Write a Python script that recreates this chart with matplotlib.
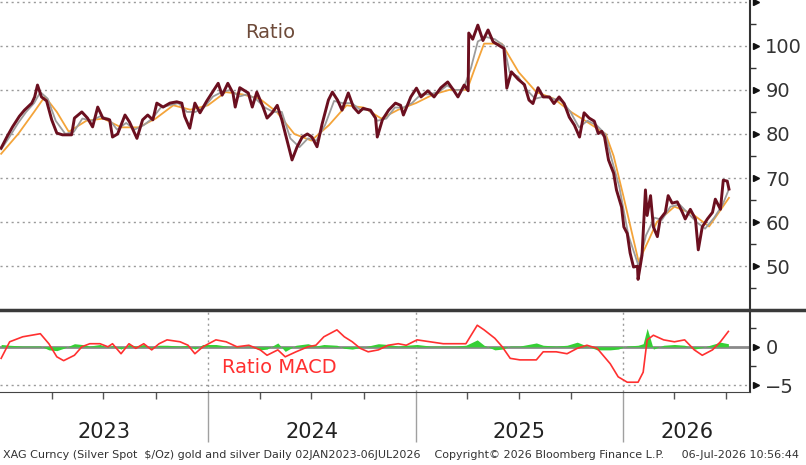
import numpy as np
import pandas as pd
import matplotlib
matplotlib.use("Agg")
import matplotlib.pyplot as plt
from matplotlib.lines import Line2D

# gold / silver ratio
ratio_dates = [
    "2023-01-02", "2023-01-12", "2023-01-22", "2023-02-03", "2023-02-12", "2023-02-25", "2023-03-02",
    "2023-03-07", "2023-03-14", "2023-03-23", "2023-04-01", "2023-04-10", "2023-04-20", "2023-05-06",
    "2023-05-11", "2023-05-24", "2023-06-03", "2023-06-12", "2023-06-21", "2023-06-30", "2023-07-12",
    "2023-07-17", "2023-07-26", "2023-08-08", "2023-08-16", "2023-08-29", "2023-09-08", "2023-09-17",
    "2023-09-26", "2023-10-03", "2023-10-14", "2023-10-26", "2023-11-07", "2023-11-16", "2023-11-21",
    "2023-11-30", "2023-12-09", "2023-12-18", "2023-12-30",
    "2024-01-08", "2024-01-19", "2024-01-26", "2024-02-05", "2024-02-14", "2024-02-18", "2024-02-26",
    "2024-03-12", "2024-03-19", "2024-03-27", "2024-04-07", "2024-04-14", "2024-04-23", "2024-05-02",
    "2024-05-10", "2024-05-19", "2024-05-28", "2024-06-06", "2024-06-15", "2024-06-24", "2024-07-02",
    "2024-07-11", "2024-07-20", "2024-07-31", "2024-08-07", "2024-08-16", "2024-08-24", "2024-09-04",
    "2024-09-13", "2024-09-22", "2024-09-30", "2024-10-13", "2024-10-22", "2024-10-25", "2024-11-03",
    "2024-11-14", "2024-11-26", "2024-12-05", "2024-12-10", "2024-12-23",
    "2025-01-02", "2025-01-10", "2025-01-22", "2025-02-02", "2025-02-14", "2025-02-26", "2025-03-09",
    "2025-03-16", "2025-03-27", "2025-04-03", "2025-04-04", "2025-04-11", "2025-04-20", "2025-04-29",
    "2025-05-08", "2025-05-17", "2025-05-27", "2025-06-05", "2025-06-10", "2025-06-18", "2025-06-30",
    "2025-07-11", "2025-07-19", "2025-07-26", "2025-08-04", "2025-08-13", "2025-08-24", "2025-09-01",
    "2025-09-10", "2025-09-19", "2025-09-28", "2025-10-07", "2025-10-16", "2025-10-24", "2025-11-02",
    "2025-11-11", "2025-11-18", "2025-11-24", "2025-11-29", "2025-12-06", "2025-12-15", "2025-12-20",
    "2025-12-29",
    "2026-01-02", "2026-01-08", "2026-01-13", "2026-01-19", "2026-01-26", "2026-01-27", "2026-02-03",
    "2026-02-09", "2026-02-12", "2026-02-18", "2026-02-23", "2026-03-02", "2026-03-07", "2026-03-16",
    "2026-03-21", "2026-03-28", "2026-04-06", "2026-04-15", "2026-04-20", "2026-04-29", "2026-05-08",
    "2026-05-13", "2026-05-20", "2026-05-29", "2026-06-07", "2026-06-12", "2026-06-21", "2026-06-26",
    "2026-07-03", "2026-07-06",
]
ratio_vals = [
    76.8, 79.3, 81.6, 84.0, 85.4, 87.0, 88.4,
    91.1, 88.4, 87.5, 83.2, 80.2, 79.8, 79.8,
    83.6, 85.0, 83.6, 81.6, 86.1, 83.6, 83.2,
    79.3, 80.0, 84.3, 82.7, 79.0, 83.2, 84.3,
    83.2, 87.0, 86.1, 87.0, 87.3, 87.0, 84.0,
    81.3, 87.0, 84.8, 87.5,
    89.3, 91.5, 88.8, 91.5, 89.3, 86.1, 90.5,
    89.3, 86.1, 89.5, 86.1, 83.6, 84.8, 86.5,
    83.2, 78.6, 74.1, 77.1, 79.3, 80.0, 79.3,
    77.1, 82.3, 87.7, 89.5, 87.7, 85.4, 89.3,
    86.1, 84.8, 85.8, 85.4, 83.6, 79.3, 83.2,
    85.4, 87.0, 86.5, 84.3, 88.4,
    90.4, 88.4, 89.8, 88.4, 90.5, 91.8, 89.8,
    88.4, 91.1, 89.8, 102.9, 101.5, 104.7, 101.2,
    103.6, 100.9, 100.1, 99.4, 90.4, 94.1, 92.4,
    91.2, 87.7, 86.9, 90.5, 88.4, 88.4, 86.9,
    88.4, 86.9, 83.8, 82.0, 79.3, 84.8, 83.6,
    82.9, 80.1, 80.6, 79.3, 74.1, 71.1, 67.3,
    63.4,
    58.9, 57.4, 53.0, 49.8, 50.0, 47.0, 52.5,
    67.3, 61.5, 66.0, 58.9, 56.7, 60.7, 62.2,
    66.0, 64.3, 64.6, 62.2, 60.7, 62.9, 60.7,
    53.7, 58.9, 60.7, 62.2, 65.2, 62.9, 69.5,
    69.3, 67.5,
]

# short moving average (grey)
short_ma_dates = [
    "2023-01-02", "2023-01-15", "2023-02-01", "2023-02-15", "2023-03-01", "2023-03-12", "2023-03-25",
    "2023-04-08", "2023-04-25", "2023-05-10", "2023-05-25", "2023-06-10", "2023-06-25", "2023-07-10",
    "2023-07-25", "2023-08-10", "2023-08-25", "2023-09-10", "2023-09-25", "2023-10-10", "2023-10-25",
    "2023-11-10", "2023-11-25", "2023-12-10", "2023-12-25",
    "2024-01-10", "2024-01-25", "2024-02-10", "2024-02-25", "2024-03-10", "2024-03-25", "2024-04-10",
    "2024-04-25", "2024-05-10", "2024-05-25", "2024-06-10", "2024-06-25", "2024-07-10", "2024-07-25",
    "2024-08-10", "2024-08-25", "2024-09-10", "2024-09-25", "2024-10-10", "2024-10-25", "2024-11-10",
    "2024-11-25", "2024-12-10", "2024-12-25",
    "2025-01-10", "2025-01-25", "2025-02-10", "2025-02-25", "2025-03-10", "2025-03-25", "2025-04-08",
    "2025-04-20", "2025-05-05", "2025-05-20", "2025-06-05", "2025-06-15", "2025-06-30", "2025-07-15",
    "2025-07-30", "2025-08-15", "2025-08-30", "2025-09-15", "2025-09-30", "2025-10-15", "2025-10-30",
    "2025-11-15", "2025-11-30", "2025-12-10", "2025-12-25",
    "2026-01-10", "2026-01-28", "2026-02-10", "2026-02-25", "2026-03-10", "2026-03-25", "2026-04-10",
    "2026-04-25", "2026-05-10", "2026-05-25", "2026-06-10", "2026-06-25", "2026-07-06",
]
short_ma_vals = [
    76.5, 79.0, 82.5, 85.0, 87.0, 89.5, 88.0,
    83.0, 80.0, 80.5, 83.5, 83.0, 84.0, 83.5,
    81.0, 82.5, 81.0, 82.0, 83.5, 86.0, 86.5,
    87.0, 85.0, 85.0, 86.0,
    88.5, 89.5, 90.0, 88.5, 89.0, 88.0, 86.0,
    85.0, 85.0, 79.0, 77.0, 79.0, 78.5, 82.0,
    87.5, 87.0, 87.0, 85.5, 85.5, 83.0, 83.5,
    86.0, 86.0, 87.0,
    89.0, 89.0, 89.5, 91.0, 90.0, 90.0, 95.0,
    101.0, 102.0, 101.5, 100.0, 94.0, 93.0, 90.0,
    88.0, 88.5, 88.0, 87.5, 85.0, 81.5, 83.0,
    82.0, 80.0, 75.0, 68.0,
    57.0, 50.0, 57.0, 61.0, 60.5, 63.5, 64.0,
    62.0, 60.0, 58.5, 61.0, 64.0, 67.5,
]

# long moving average (orange)
long_ma_dates = [
    "2023-01-02", "2023-02-01", "2023-03-01", "2023-03-20", "2023-04-10", "2023-05-01", "2023-06-01",
    "2023-07-01", "2023-08-01", "2023-09-01", "2023-10-01", "2023-11-01", "2023-12-01",
    "2024-01-01", "2024-02-01", "2024-03-01", "2024-04-01", "2024-05-01", "2024-06-01", "2024-07-01",
    "2024-08-01", "2024-09-01", "2024-10-01", "2024-11-01", "2024-12-01",
    "2025-01-01", "2025-02-01", "2025-03-01", "2025-04-01", "2025-04-15", "2025-05-01", "2025-06-01",
    "2025-07-01", "2025-08-01", "2025-09-01", "2025-10-01", "2025-11-01", "2025-12-01", "2025-12-15",
    "2026-01-01", "2026-01-28", "2026-02-15", "2026-03-01", "2026-04-01", "2026-05-01", "2026-06-01",
    "2026-07-06",
]
long_ma_vals = [
    75.5, 80.0, 85.0, 88.5, 85.0, 80.5, 83.0,
    83.5, 81.5, 81.5, 83.5, 86.5, 85.5,
    86.5, 89.5, 89.0, 88.0, 85.0, 80.0, 78.5,
    82.0, 86.5, 86.0, 83.5, 85.5,
    87.0, 89.0, 90.0, 90.0, 95.0, 100.5, 100.5,
    94.0, 89.5, 88.0, 85.0, 82.5, 80.0, 75.0,
    66.0, 51.0, 56.0, 60.0, 63.5, 62.0, 59.0,
    65.5,
]

# MACD line (red) and histogram (green)
macd_dates = [
    "2023-01-02", "2023-01-17", "2023-02-09", "2023-03-12", "2023-03-27", "2023-04-10", "2023-04-22",
    "2023-05-11", "2023-05-24", "2023-06-07", "2023-06-25", "2023-07-09", "2023-07-17", "2023-08-01",
    "2023-08-15", "2023-08-27", "2023-09-10", "2023-09-24", "2023-10-07", "2023-10-21", "2023-11-13",
    "2023-11-27", "2023-12-09", "2023-12-23",
    "2024-01-15", "2024-02-02", "2024-02-21", "2024-03-13", "2024-04-02", "2024-04-14", "2024-05-03",
    "2024-05-16", "2024-06-04", "2024-06-25", "2024-07-09", "2024-07-23", "2024-08-15", "2024-08-28",
    "2024-09-11", "2024-09-25", "2024-10-09", "2024-10-27", "2024-11-13", "2024-12-01", "2024-12-15",
    "2025-01-03", "2025-01-26", "2025-02-18", "2025-03-12", "2025-03-30", "2025-04-19", "2025-05-01",
    "2025-05-20", "2025-06-02", "2025-06-16", "2025-07-03", "2025-08-01", "2025-08-13", "2025-09-05",
    "2025-09-24", "2025-10-12", "2025-10-29", "2025-11-16", "2025-12-09", "2025-12-23",
    "2026-01-08", "2026-01-27", "2026-02-05", "2026-02-12", "2026-02-23", "2026-03-13", "2026-04-01",
    "2026-04-19", "2026-05-06", "2026-05-20", "2026-06-07", "2026-06-21", "2026-07-05",
]
macd_line = [
    -1.5, 0.65, 1.3, 1.7, 0.4, -1.3, -1.8,
    -1.1, 0.0, 0.4, 0.4, 0.0, 0.4, -0.9,
    0.4, -0.2, 0.4, -0.4, 0.4, 0.9, 0.65,
    0.2, -0.9, 0.0,
    0.9, 0.65, 0.0, 0.2, -0.4, -1.1, -0.4,
    -1.3, -0.65, 0.0, 0.2, 1.3, 2.2, 1.3,
    0.65, -0.2, -0.65, -0.4, 0.2, 0.4, 0.2,
    0.9, 0.65, 0.4, 0.4, 0.4, 2.8, 2.2,
    1.1, 0.0, -1.5, -1.7, -1.7, -0.65, -0.65,
    -0.9, -0.2, 0.2, -0.2, -2.2, -3.9,
    -4.6, -4.6, -3.3, 0.9, 1.5, 0.9, 0.65,
    0.9, -0.4, -1.1, -0.4, 0.65, 2.0,
]
macd_hist = [
    0.3, 0.2, 0.1, 0.1, -0.4, -0.5, -0.2,
    0.4, 0.3, 0.1, 0.3, -0.1, 0.2, -0.3,
    0.3, 0.1, 0.3, -0.2, 0.2, 0.2, 0.1,
    0.2, -0.3, 0.3,
    0.3, 0.1, -0.1, 0.1, -0.4, -0.3, 0.5,
    -0.6, 0.2, 0.4, 0.1, 0.3, 0.2, -0.2,
    -0.3, -0.1, 0.1, 0.4, 0.3, 0.1, 0.2,
    0.3, 0.1, 0.1, 0.1, 0.2, 0.9, 0.2,
    -0.4, -0.3, 0.1, 0.1, 0.5, 0.2, 0.1,
    0.2, 0.6, 0.1, -0.4, -0.4, -0.3,
    0.1, 0.2, 0.4, 2.4, -0.3, 0.2, 0.3,
    0.2, -0.3, -0.1, 0.3, 0.6, 0.4,
]

years = ["2023", "2024", "2025", "2026"]
footer = ("XAG Curncy (Silver Spot  $/Oz) gold and silver Daily 02JAN2023-06JUL2026    "
          "Copyright\u00a9 2026 Bloomberg Finance L.P.     06-Jul-2026 10:56:44")

rd = pd.to_datetime(ratio_dates)
sd = pd.to_datetime(short_ma_dates)
ld = pd.to_datetime(long_ma_dates)
md = pd.to_datetime(macd_dates)

x0 = pd.Timestamp("2022-12-31")
x1 = pd.Timestamp("2026-08-12")
year_starts = [pd.Timestamp(y + "-01-01") for y in years[1:]]

fig = plt.figure(figsize=(8.06, 4.65), dpi=100)
ax1 = fig.add_axes([0, 0.3376, 0.9305, 0.6624])
ax2 = fig.add_axes([0, 0.157, 0.9305, 0.1742])

grid_kw = dict(color="#9a9a9a", lw=1.0, ls=(0, (1.5, 2.5)))

# ---- upper panel: ratio
ax1.plot(ld, long_ma_vals, color="#f4a43a", lw=1.3, zorder=2)
ax1.plot(sd, short_ma_vals, color="#9c9c9c", lw=1.3, zorder=3)
ax1.plot(rd, ratio_vals, color="#6b0f1f", lw=2.1, zorder=4)
ax1.set_xlim(x0, x1)
ax1.set_ylim(40.5, 110.4)
for v in [50, 60, 70, 80, 90, 100, 110]:
    ax1.axhline(v, zorder=1, **grid_kw)
ax1.text(pd.Timestamp("2024-04-19"), 103.1, "Ratio", color="#6e4b3a", fontsize=14,
         ha="center", va="center")

# ---- lower panel: MACD
ax2.fill_between(md, macd_hist, 0, color="#35d035", lw=0, zorder=2)
ax2.axhline(0, color="#8a8a8a", lw=2.0, zorder=1)
ax2.plot(md, macd_line, color="#ff3030", lw=1.2, zorder=3)
ax2.set_xlim(x0, x1)
ax2.set_ylim(-5.87, 4.65)
ax2.axhline(-5, zorder=1, **grid_kw)
for d in year_starts:
    ax2.axvline(d, zorder=1, **grid_kw)
ax2.text(pd.Timestamp("2024-05-05"), -2.75, "Ratio MACD", color="#ff3030", fontsize=14,
         ha="center", va="center")

# ---- right axis styling
for ax, major, minor in [(ax1, [50, 60, 70, 80, 90, 100], np.arange(45, 110, 10)),
                         (ax2, [0, -5], [2.5, -2.5])]:
    for s in ["left", "top", "bottom"]:
        ax.spines[s].set_visible(False)
    ax.spines["right"].set_color("#333333")
    ax.spines["right"].set_linewidth(1.5)
    ax.yaxis.tick_right()
    ax.set_yticks(major)
    ax.set_yticks(minor, minor=True)
    ax.tick_params(axis="y", which="major", length=0, pad=11, labelsize=14, labelcolor="#333333")
    ax.tick_params(axis="y", which="minor", length=4, width=1, color="#333333")
    ax.plot([1.008] * len(major), major, transform=ax.get_yaxis_transform(), marker=">",
            ms=5, color="#111111", ls="none", clip_on=False)
    ax.set_facecolor("none")

ax1.plot([1.008], [110], transform=ax1.get_yaxis_transform(), marker=">", ms=5,
         color="#111111", ls="none", clip_on=False)
ax1.set_xticks([])

# date axis under MACD panel
ax2.spines["bottom"].set_visible(True)
ax2.spines["bottom"].set_color("#444444")
ax2.set_xticks(year_starts)
quarters = pd.date_range("2023-04-01", "2026-07-01", freq="QS")
ax2.set_xticks(quarters, minor=True)
ax2.tick_params(axis="x", which="major", length=36, width=1, color="#a0a0a0", labelbottom=False)
ax2.tick_params(axis="x", which="minor", length=5, width=1, color="#555555", labelbottom=False)

mids = [pd.Timestamp("2023-07-02"), pd.Timestamp("2024-07-02"), pd.Timestamp("2025-07-02"),
        pd.Timestamp("2026-01-01") + (x1 - pd.Timestamp("2026-01-01")) / 2]
for m, y in zip(mids, years):
    ax2.text(m, -0.5, y, transform=ax2.get_xaxis_transform(), ha="center", va="center",
             fontsize=15, color="#222222")

# panel separator bar
fig.add_artist(Line2D([0, 1], [1 - 309.5 / 465] * 2, color="#3a3a3a", lw=2.5))

fig.text(0.004, 0.022, footer, fontsize=8.0, color="#333333", ha="left", va="center",
         family="DejaVu Sans Condensed")

plt.savefig("out.png", dpi=100)
